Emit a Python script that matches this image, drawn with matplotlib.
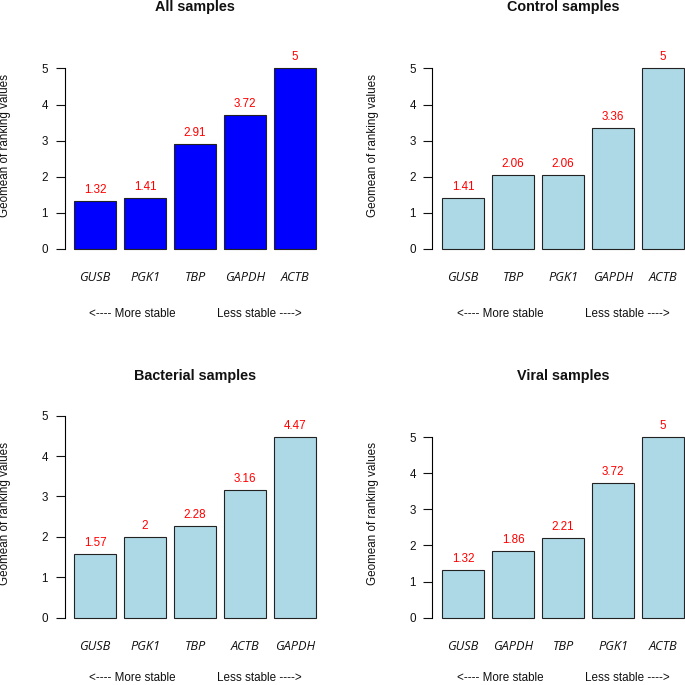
import matplotlib
matplotlib.use("Agg")
import matplotlib.pyplot as plt
from matplotlib.transforms import offset_copy

# ---- data ----
titles = ["All samples", "Control samples", "Bacterial samples", "Viral samples"]
genes_all = ["GUSB", "PGK1", "TBP", "GAPDH", "ACTB"]
vals_all = [1.32, 1.41, 2.91, 3.72, 5]
genes_control = ["GUSB", "TBP", "PGK1", "GAPDH", "ACTB"]
vals_control = [1.41, 2.06, 2.06, 3.36, 5]
genes_bacterial = ["GUSB", "PGK1", "TBP", "ACTB", "GAPDH"]
vals_bacterial = [1.57, 2, 2.28, 3.16, 4.47]
genes_viral = ["GUSB", "GAPDH", "TBP", "PGK1", "ACTB"]
vals_viral = [1.32, 1.86, 2.21, 3.72, 5]
fills = ["#0000FF", "#ADD8E6", "#ADD8E6", "#ADD8E6"]
ylabel = "Geomean of ranking values"
stab_left = "<---- More stable"
stab_right = "Less stable ---->"
yticks = [0, 1, 2, 3, 4, 5]

plt.rcParams['font.family'] = ['Liberation Sans', 'DejaVu Sans']

W = H = 685
fig = plt.figure(figsize=(6.85, 6.85), dpi=100)

def px_axes(left, top, width, height):
    return fig.add_axes([left / W, 1 - (top + height) / H, width / W, height / H])

AX_W = 261.2
AX_H = 224.3
layout = [(64.5, 33.0), (432.5, 33.0), (64.5, 401.7), (432.5, 401.7)]
stab_off = [-68, -68, -63.5, -63.5]
data = [(genes_all, vals_all), (genes_control, vals_control),
        (genes_bacterial, vals_bacterial), (genes_viral, vals_viral)]

tsize = 8.4
for (left, top), (genes, vals), title, fc, so in zip(layout, data, titles, fills, stab_off):
    ax = px_axes(left, top, AX_W, AX_H)
    ax.patch.set_visible(False)
    M = 1.15 * max(vals)
    ax.set_ylim(-0.04 * M, 1.04 * M)
    ax.set_xlim(-0.032, 6.232)
    centers = [0.7 + 1.2 * i for i in range(len(vals))]
    ax.bar(centers, vals, width=1.0, color=fc, edgecolor="#222222", linewidth=0.8)
    for s in ["top", "right", "bottom"]:
        ax.spines[s].set_visible(False)
    ax.spines["left"].set_bounds(0, 5)
    ax.spines["left"].set_linewidth(0.8)
    ax.set_xticks([])
    ax.set_yticks(yticks)
    ax.set_yticklabels([str(t) for t in yticks])
    ax.tick_params(axis="y", length=6.5, width=0.8, pad=5.5, labelsize=tsize, colors="#111111")
    # value labels
    tr_up = offset_copy(ax.transData, fig=fig, x=0, y=8, units="dots")
    for c, v in zip(centers, vals):
        ax.text(c, v, format(v, "g"), transform=tr_up, ha="center", va="baseline",
                color="red", fontsize=tsize, clip_on=False)
    # gene labels
    tr_g = offset_copy(ax.transData, fig=fig, x=0, y=-32.5, units="dots")
    for c, g in zip(centers, genes):
        ax.text(c, 0, g, transform=tr_g, ha="center", va="baseline",
                fontsize=9.2, style="italic", family="Open Sans", color="#111111", clip_on=False)
    # stability labels
    tr_s = offset_copy(ax.transData, fig=fig, x=0, y=so, units="dots")
    ax.text(1.59, 0, stab_left, transform=tr_s, ha="center", va="baseline",
            fontsize=tsize, color="#111111", clip_on=False)
    ax.text(4.63, 0, stab_right, transform=tr_s, ha="center", va="baseline",
            fontsize=tsize, color="#111111", clip_on=False)
    # title
    tr_t = offset_copy(ax.transData, fig=fig, x=0, y=237.5, units="dots")
    ax.text(3.1, 0, title, transform=tr_t, ha="center", va="baseline",
            fontsize=10.4, fontweight="bold", color="#111111", clip_on=False)
    # y label
    tr_y = offset_copy(ax.transAxes, fig=fig, x=-59, y=0, units="dots")
    ax.text(0, 0.5, ylabel, transform=tr_y, rotation=90, ha="center", va="center",
            fontsize=tsize, color="#111111", clip_on=False)

fig.savefig("out.png", dpi=100)
